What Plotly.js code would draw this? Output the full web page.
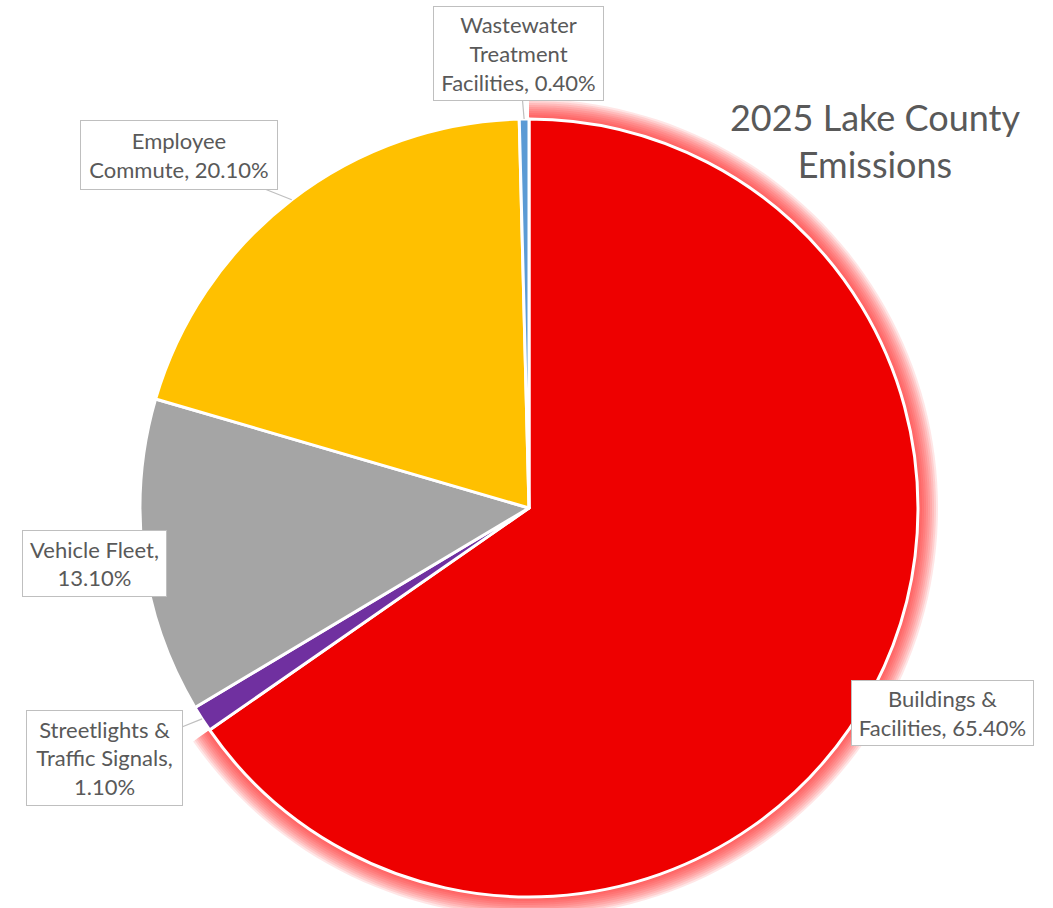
<!DOCTYPE html>
<html>
<head>
<meta charset="utf-8">
<script src="https://cdn.plot.ly/plotly-3.0.1.min.js"></script>
<style>html,body{margin:0;padding:0;background:#fff;overflow:hidden;width:1053px;height:908px;}#chart{width:1053px;height:960px;}</style>
</head>
<body>
<div id="chart"></div>
<script>
// ---- data ----
const categories = ["Buildings & Facilities", "Streetlights & Traffic Signals", "Vehicle Fleet", "Employee Commute", "Wastewater Treatment Facilities"];
const values = [65.4, 1.1, 13.1, 20.1, 0.4];
const labelTexts = ["Buildings &<br>Facilities, 65.40%", "Streetlights &<br>Traffic Signals,<br>1.10%", "Vehicle Fleet,<br>13.10%", "Employee<br>Commute, 20.10%", "Wastewater<br>Treatment<br>Facilities, 0.40%"];
const sliceColors = ["#EE0000", "#7030A0", "#A5A5A5", "#FFC000", "#5B9BD5"];
const titleText = "2025 Lake County<br>Emissions";

// ---- geometry (pixels); canvas taller than the window so the glow is not clipped ----
const W = 1053, H = 960;
const CX = 529, CY = 508, R = 389;
function domainFor(r) {
  return { x: [(CX - r) / W, (CX + r) / W], y: [(H - CY - r) / H, (H - CY + r) / H] };
}

const traces = [];
// soft glow around the first slice
const glowSteps = [20, 18, 16, 14, 12, 10, 8, 6, 4, 2];
glowSteps.forEach(k => {
  traces.push({
    type: "pie", values: values, labels: categories, sort: false, direction: "clockwise", rotation: 0,
    domain: domainFor(R + k), textinfo: "none", hoverinfo: "skip", showlegend: false,
    marker: { colors: values.map((v, i) => i === 0 ? "rgba(255,30,30,0.11)" : "rgba(0,0,0,0)"), line: { width: 0 } }
  });
});
traces.push({
  type: "pie", values: values, labels: categories, sort: false, direction: "clockwise", rotation: 0,
  domain: domainFor(R), textinfo: "none", showlegend: false,
  marker: { colors: sliceColors, line: { color: "#ffffff", width: 3 } }
});

// label boxes: [centerX, centerY, width, height, showArrow]
const boxes = [
  [942.5, 713, 181, 64, false],
  [104.5, 758, 155, 94, true],
  [94.5, 563.5, 143, 65, false],
  [179, 155, 196, 68, true],
  [518.5, 53.5, 169, 93, true]
];
const total = values.reduce((a, b) => a + b, 0);
let cum = 0;
const annotations = [];
values.forEach((v, i) => {
  const mid = (cum + v / 2) / total * 2 * Math.PI;
  cum += v;
  const hx = CX + R * Math.sin(mid), hy = CY - R * Math.cos(mid);
  const b = boxes[i];
  const common = {
    text: labelTexts[i], font: { family: "Lato, sans-serif", size: 22, color: "#595959" },
    bgcolor: "#ffffff", bordercolor: "#BFBFBF", borderwidth: 1, borderpad: 0,
    width: b[2], height: b[3], align: "center", valign: "middle", xref: "paper", yref: "paper"
  };
  if (b[4]) {
    annotations.push(Object.assign(common, {
      x: hx / W, y: 1 - hy / H, showarrow: true, arrowhead: 0, arrowwidth: 1.2, arrowcolor: "#BFBFBF",
      ax: b[0] - hx, ay: b[1] - hy, axref: "pixel", ayref: "pixel"
    }));
  } else {
    annotations.push(Object.assign(common, { x: b[0] / W, y: 1 - b[1] / H, showarrow: false, xanchor: "center", yanchor: "middle" }));
  }
});

const layout = {
  width: W, height: H, margin: { l: 0, r: 0, t: 0, b: 0 },
  paper_bgcolor: "#ffffff", plot_bgcolor: "#ffffff", showlegend: false,
  title: { text: titleText, font: { family: "Lato, sans-serif", size: 36, color: "#595959" },
    x: 875 / W, xanchor: "center", xref: "paper", y: 1 - 131 / H, yanchor: "top", yref: "container" },
  annotations: annotations
};
Plotly.newPlot("chart", traces, layout, { displayModeBar: false, staticPlot: true });
</script>
</body>
</html>
